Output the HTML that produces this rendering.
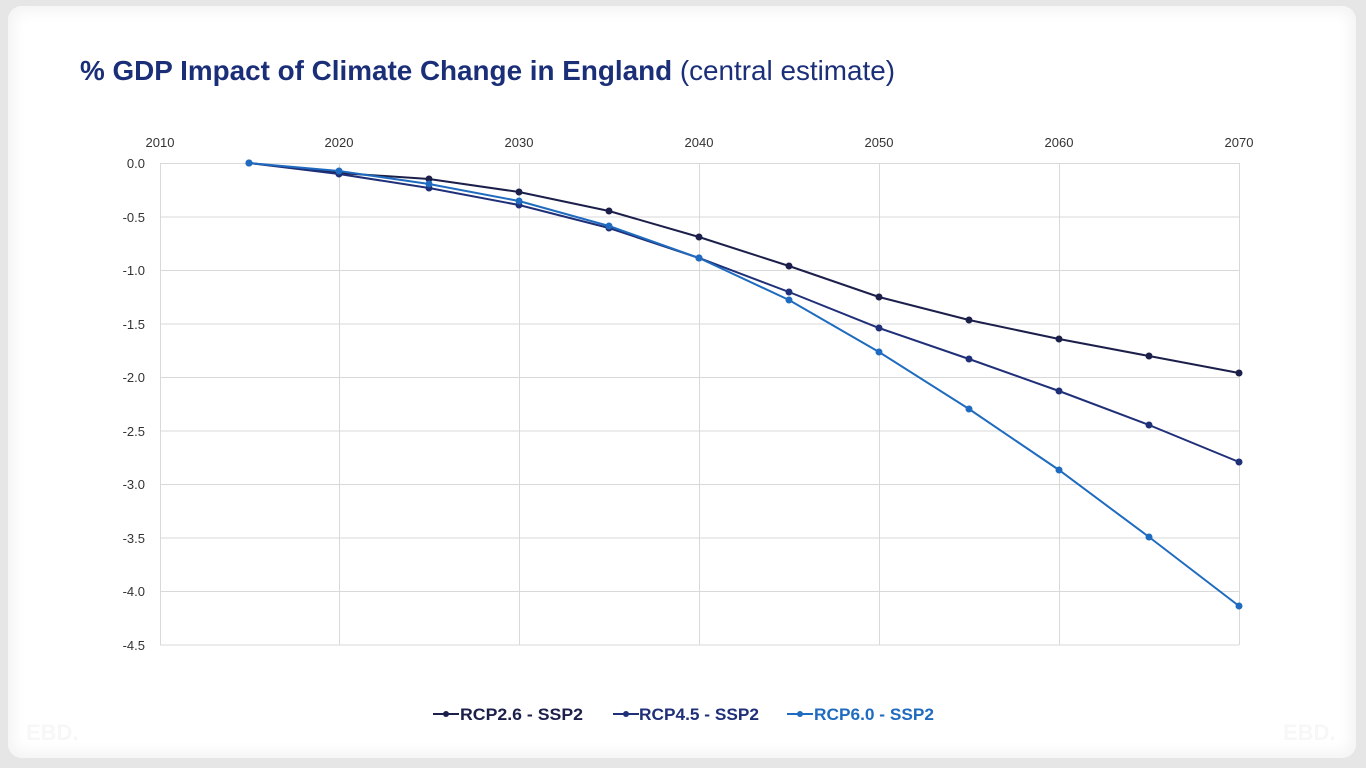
<!DOCTYPE html>
<html><head><meta charset="utf-8"><style>
html,body{margin:0;padding:0;width:1366px;height:768px;overflow:hidden;background:#e6e6e6;}
.card{position:absolute;left:8px;top:6px;width:1348px;height:752px;background:#fff;border-radius:14px;box-shadow:0 0 14px 6px #f4f4f4 inset;}
svg{position:absolute;left:0;top:0;}
</style></head><body>
<div class="card"></div>
<svg width="1366" height="768" font-family="'Liberation Sans',sans-serif">
<text x="80" y="80" font-size="28" fill="#1b2f78" textLength="815" lengthAdjust="spacingAndGlyphs"><tspan font-weight="bold">% GDP Impact of Climate Change in England</tspan> (central estimate)</text>
<g stroke="#d9d9d9" stroke-width="1">
<line x1="160" y1="163.5" x2="1239" y2="163.5"/><line x1="160" y1="217" x2="1239" y2="217"/>
<line x1="160" y1="270.5" x2="1239" y2="270.5"/><line x1="160" y1="324" x2="1239" y2="324"/>
<line x1="160" y1="377.5" x2="1239" y2="377.5"/><line x1="160" y1="431" x2="1239" y2="431"/>
<line x1="160" y1="484.5" x2="1239" y2="484.5"/><line x1="160" y1="538" x2="1239" y2="538"/>
<line x1="160" y1="591.5" x2="1239" y2="591.5"/><line x1="160" y1="645" x2="1239" y2="645"/>
<line x1="160.5" y1="163" x2="160.5" y2="645"/><line x1="339.5" y1="163" x2="339.5" y2="645"/>
<line x1="519.5" y1="163" x2="519.5" y2="645"/><line x1="699.5" y1="163" x2="699.5" y2="645"/>
<line x1="879.5" y1="163" x2="879.5" y2="645"/><line x1="1059.5" y1="163" x2="1059.5" y2="645"/>
<line x1="1239.5" y1="163" x2="1239.5" y2="645"/>
</g>
<g font-size="13" fill="#333" text-anchor="middle">
<text x="160" y="147">2010</text><text x="339" y="147">2020</text><text x="519" y="147">2030</text>
<text x="699" y="147">2040</text><text x="879" y="147">2050</text><text x="1059" y="147">2060</text><text x="1239" y="147">2070</text>
</g>
<g font-size="13" fill="#333" text-anchor="end">
<text x="145" y="168">0.0</text><text x="145" y="222">-0.5</text><text x="145" y="275">-1.0</text>
<text x="145" y="329">-1.5</text><text x="145" y="382">-2.0</text><text x="145" y="436">-2.5</text>
<text x="145" y="489">-3.0</text><text x="145" y="543">-3.5</text><text x="145" y="596">-4.0</text><text x="145" y="650">-4.5</text>
</g>
<g fill="none" stroke-width="2">
<polyline stroke="#1b1f4a" points="249,163 339,173 429,179 519,192 609,211 699,237 789,266 879,297 969,320 1059,339 1149,356 1239,373"/>
<polyline stroke="#1f2f78" points="249,163 339,174 429,188 519,205 609,228 699,258 789,292 879,328 969,359 1059,391 1149,425 1239,462"/>
<polyline stroke="#1f6bbf" points="249,163 339,171 429,184 519,201 609,226 699,258 789,300 879,352 969,409 1059,470 1149,537 1239,606"/>
</g>
<g fill="#1b1f4a"><circle cx="249" cy="163" r="3.5"/><circle cx="339" cy="173" r="3.5"/><circle cx="429" cy="179" r="3.5"/><circle cx="519" cy="192" r="3.5"/><circle cx="609" cy="211" r="3.5"/><circle cx="699" cy="237" r="3.5"/><circle cx="789" cy="266" r="3.5"/><circle cx="879" cy="297" r="3.5"/><circle cx="969" cy="320" r="3.5"/><circle cx="1059" cy="339" r="3.5"/><circle cx="1149" cy="356" r="3.5"/><circle cx="1239" cy="373" r="3.5"/></g>
<g fill="#1f2f78"><circle cx="339" cy="174" r="3.5"/><circle cx="429" cy="188" r="3.5"/><circle cx="519" cy="205" r="3.5"/><circle cx="609" cy="228" r="3.5"/><circle cx="699" cy="258" r="3.5"/><circle cx="789" cy="292" r="3.5"/><circle cx="879" cy="328" r="3.5"/><circle cx="969" cy="359" r="3.5"/><circle cx="1059" cy="391" r="3.5"/><circle cx="1149" cy="425" r="3.5"/><circle cx="1239" cy="462" r="3.5"/></g>
<g fill="#1f6bbf"><circle cx="249" cy="163" r="3.5"/><circle cx="339" cy="171" r="3.5"/><circle cx="429" cy="184" r="3.5"/><circle cx="519" cy="201" r="3.5"/><circle cx="609" cy="226" r="3.5"/><circle cx="699" cy="258" r="3.5"/><circle cx="789" cy="300" r="3.5"/><circle cx="879" cy="352" r="3.5"/><circle cx="969" cy="409" r="3.5"/><circle cx="1059" cy="470" r="3.5"/><circle cx="1149" cy="537" r="3.5"/><circle cx="1239" cy="606" r="3.5"/></g>
<g font-size="17" font-weight="bold">
<line x1="433" y1="714" x2="459" y2="714" stroke="#1b1f4a" stroke-width="2"/><circle cx="446" cy="714" r="3" fill="#1b1f4a"/>
<text x="460" y="720" fill="#1b1f4a" textLength="123" lengthAdjust="spacingAndGlyphs">RCP2.6 - SSP2</text>
<line x1="613" y1="714" x2="639" y2="714" stroke="#1f2f78" stroke-width="2"/><circle cx="626" cy="714" r="3" fill="#1f2f78"/>
<text x="639" y="720" fill="#1f2f78" textLength="120" lengthAdjust="spacingAndGlyphs">RCP4.5 - SSP2</text>
<line x1="787" y1="714" x2="813" y2="714" stroke="#1f6bbf" stroke-width="2"/><circle cx="800" cy="714" r="3" fill="#1f6bbf"/>
<text x="814" y="720" fill="#1f6bbf" textLength="120" lengthAdjust="spacingAndGlyphs">RCP6.0 - SSP2</text>
</g>
<g font-size="22" font-weight="bold" fill="#f7f7f7">
<text x="26" y="740">EBD.</text><text x="1283" y="740">EBD.</text>
</g>
</svg>
</body></html>
